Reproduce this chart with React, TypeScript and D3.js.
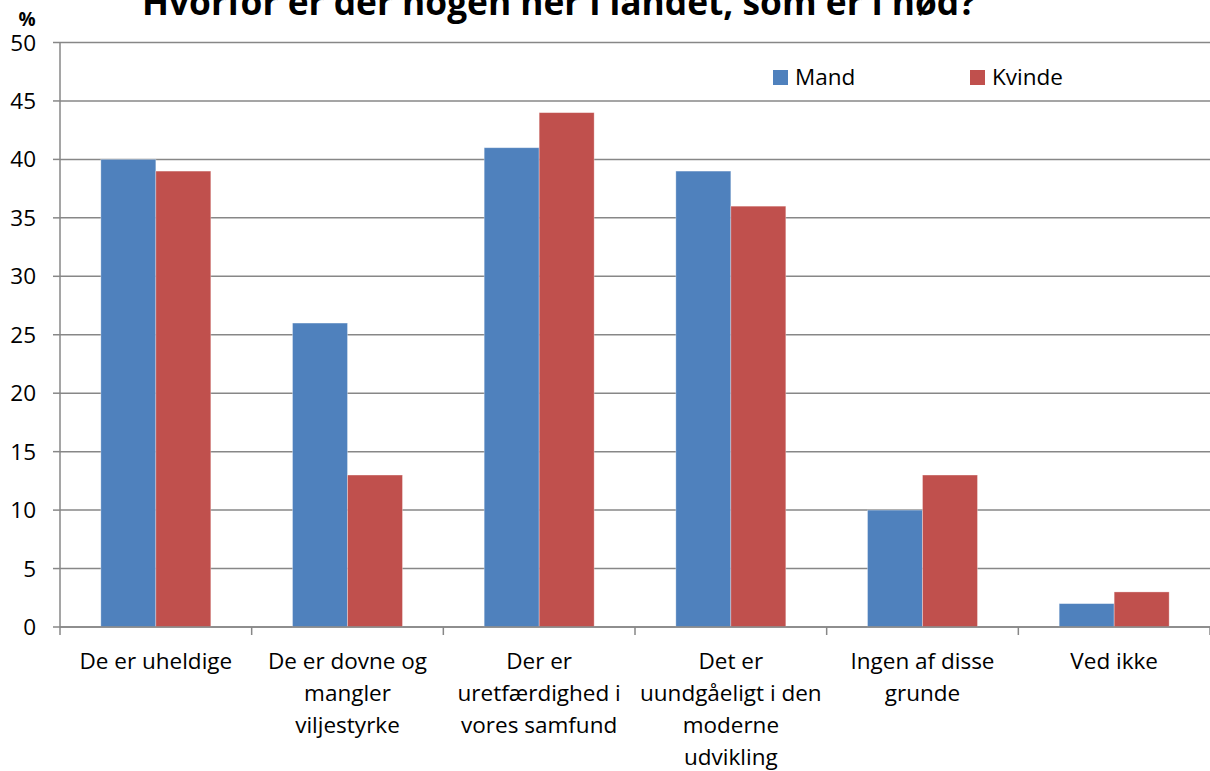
import React from "react";
import * as d3 from "d3";

const categories: string[][] = [
  ["De er uheldige"],
  ["De er dovne og", "mangler", "viljestyrke"],
  ["Der er", "uretfærdighed i", "vores samfund"],
  ["Det er", "uundgåeligt i den", "moderne", "udvikling"],
  ["Ingen af disse", "grunde"],
  ["Ved ikke"],
];
const seriesNames = ["Mand", "Kvinde"];
const mand = [40, 26, 41, 39, 10, 2];
const kvinde = [39, 13, 44, 36, 13, 3];
const yTicks = [0, 5, 10, 15, 20, 25, 30, 35, 40, 45, 50];
const title = "Hvorfor er der nogen her i landet, som er i nød?";
const colors = ["#4F81BD", "#C0504D"];

const W = 1210;
const H = 771;
const left = 60;
const right = 1210;
const top = 42.5;
const bottom = 627;
const font = "'Open Sans', Calibri, sans-serif";

export default function App() {
  const x = d3
    .scaleBand<number>()
    .domain(categories.map((_, i) => i))
    .range([left, right])
    .paddingInner(0)
    .paddingOuter(0);
  const inner = d3
    .scaleBand<number>()
    .domain([0, 1])
    .range([0, x.bandwidth()])
    .paddingOuter(0.743)
    .paddingInner(0);
  const y = d3.scaleLinear().domain([0, 50]).range([bottom, top]);
  const series = [mand, kvinde];
  const tickXs = categories.map((_, i) => x(i)!).concat([right]);

  return (
    <div style={{ position: "absolute", left: 0, top: 0 }}>
      <svg width={W} height={H} style={{ display: "block", background: "#fff" }}>
        <text x={559} y={15} textAnchor="middle" fontFamily={font} fontWeight="bold" fontSize={35.3}>
          {title}
        </text>
        <text x={27} y={26} textAnchor="middle" fontFamily={font} fontWeight="bold" fontSize={19}>
          %
        </text>
        {yTicks.map((t) => (
          <g key={t}>
            <line x1={left} x2={right} y1={y(t)} y2={y(t)} stroke="#878787" strokeWidth={1.5} />
            <line x1={left - 7} x2={left} y1={y(t)} y2={y(t)} stroke="#878787" strokeWidth={1.5} />
            <text x={36} y={y(t) + 8} textAnchor="end" fontFamily={font} fontSize={22.5} fill="#000">
              {t}
            </text>
          </g>
        ))}
        <line x1={left} x2={left} y1={top} y2={bottom} stroke="#878787" strokeWidth={1.5} />
        {tickXs.map((tx, i) => (
          <line key={i} x1={tx} x2={tx} y1={bottom} y2={bottom + 8} stroke="#878787" strokeWidth={1.5} />
        ))}
        {series.map((vals, s) =>
          vals.map((v, i) => (
            <rect
              key={`${s}-${i}`}
              x={x(i)! + inner(s)!}
              y={y(v)}
              width={inner.bandwidth()}
              height={y(0) - y(v)}
              fill={colors[s]}
              stroke="#fff"
              strokeOpacity={0.4}
              strokeWidth={0.8}
            />
          ))
        )}
        <line x1={left} x2={right} y1={bottom} y2={bottom} stroke="#878787" strokeWidth={1.5} />
        {categories.map((lines, i) => (
          <text
            key={i}
            x={x(i)! + x.bandwidth() / 2}
            y={669}
            textAnchor="middle"
            fontFamily={font}
            fontSize={22.5}
            fill="#000"
          >
            {lines.map((l, j) => (
              <tspan key={j} x={x(i)! + x.bandwidth() / 2} dy={j === 0 ? 0 : 32}>
                {l}
              </tspan>
            ))}
          </text>
        ))}
        {seriesNames.map((n, i) => (
          <g key={n} transform={`translate(${773 + i * 197},70)`}>
            <rect x={0} y={0} width={15} height={15} fill={colors[i]} />
            <text x={22} y={15} fontFamily={font} fontSize={22.5} fill="#000">
              {n}
            </text>
          </g>
        ))}
      </svg>
    </div>
  );
}
